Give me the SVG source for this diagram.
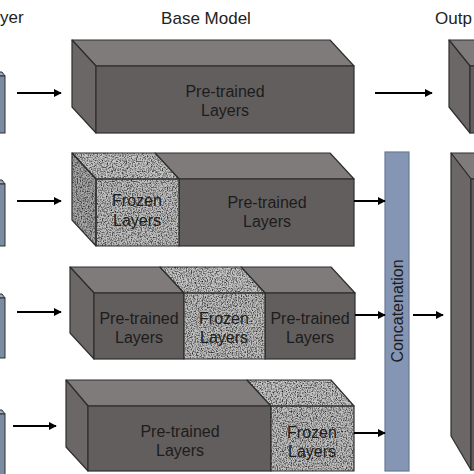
<svg xmlns="http://www.w3.org/2000/svg" width="474" height="474" viewBox="0 0 474 474">
<defs>
<filter id="noise" x="0" y="0" width="100%" height="100%" color-interpolation-filters="sRGB">
<feTurbulence type="fractalNoise" baseFrequency="0.8" numOctaves="2" seed="3" result="n"/>
<feColorMatrix in="n" type="matrix" values="1.9 0 0 0 -0.12  1.9 0 0 0 -0.12  1.9 0 0 0 -0.12  0 0 0 0 1" result="g"/>
<feComposite in="g" in2="SourceGraphic" operator="arithmetic" k1="1" k2="0" k3="0" k4="0"/>
</filter>
<marker id="ah" viewBox="0 0 10 10" refX="9" refY="5" markerWidth="4" markerHeight="4" orient="auto" markerUnits="strokeWidth">
<path d="M0,0 L10,5 L0,10 Z" fill="#000"/>
</marker>
</defs>
<style>
.top{fill:#7e7b7a;stroke:#2e2e2e;stroke-width:1.2;stroke-linejoin:round}
.front{fill:#625e5d;stroke:#2e2e2e;stroke-width:1.2}
.side{fill:#6b6766;stroke:#2e2e2e;stroke-width:1.2;stroke-linejoin:round}
.fz{filter:url(#noise)}
.fzt{fill:#c6c6c6}
.fzf{fill:#c0c0c0}
.fzs{fill:#a8a8a8}
.edge{fill:none;stroke:#2e2e2e;stroke-width:1.2;stroke-linejoin:round}
.lbl{font-family:"Liberation Sans",Arial,sans-serif;font-size:16px;fill:#1c1c1c;text-anchor:middle}
.ttl{font-family:"Liberation Sans",Arial,sans-serif;font-size:17px;fill:#222}
.inp{fill:#7b8ba1;stroke:#2e2e2e;stroke-width:1}
.inpt{fill:#9aa8bb;stroke:#2e2e2e;stroke-width:1}
.arr{stroke:#000;stroke-width:2;fill:none;marker-end:url(#ah)}
</style>
<rect width="474" height="474" fill="#fff"/>

<text class="ttl" x="0" y="23">yer</text>
<text class="ttl" x="206" y="24" text-anchor="middle">Base Model</text>
<text class="ttl" x="435" y="24">Outp</text>

<g id="input1"><path class="inpt" d="M-5,72 L2,72 L5,76 L-5,76 Z"/><rect class="inp" x="-5" y="76" width="10" height="57"/></g>
<g id="input2"><path class="inpt" d="M-5,180 L2,180 L5,184 L-5,184 Z"/><rect class="inp" x="-5" y="184" width="10" height="62"/></g>
<g id="input3"><path class="inpt" d="M-5,294 L2,294 L5,298 L-5,298 Z"/><rect class="inp" x="-5" y="298" width="10" height="60"/></g>
<g id="input4"><path class="inpt" d="M-5,410 L2,410 L5,414 L-5,414 Z"/><rect class="inp" x="-5" y="414" width="10" height="70"/></g>

<g id="model1">
<polygon class="top" points="72,40 330,40 354,66 96,66"/>
<polygon class="side" points="72,40 96,66 96,133 72,107"/>
<rect class="front" x="96" y="66" width="258" height="67"/>
<text class="lbl" x="225" y="97">Pre-trained</text>
<text class="lbl" x="225" y="116">Layers</text>
</g>

<g id="model2">
<polygon class="top" points="155,153 330,153 354,179 179,179"/>
<rect class="front" x="179" y="179" width="175" height="67"/>
<g class="fz">
<polygon class="fzt" points="72,153 155,153 179,179 96,179"/>
<polygon class="fzs" points="72,153 96,179 96,246 72,220"/>
<rect class="fzf" x="96" y="179" width="83" height="67"/>
</g>
<polygon class="edge" points="72,153 155,153 179,179 96,179"/>
<polygon class="edge" points="72,153 96,179 96,246 72,220"/>
<rect class="edge" x="96" y="179" width="83" height="67"/>
<text class="lbl" x="137" y="206">Frozen</text>
<text class="lbl" x="137" y="226">Layers</text>
<text class="lbl" x="267" y="208">Pre-trained</text>
<text class="lbl" x="267" y="227">Layers</text>
</g>

<g id="model3">
<polygon class="top" points="70,267 160,267 184,293 94,293"/>
<polygon class="side" points="70,267 94,293 94,359 70,333"/>
<rect class="front" x="94" y="293" width="90" height="66"/>
<polygon class="top" points="241,267 331,267 355,293 265,293"/>
<rect class="front" x="265" y="293" width="90" height="66"/>
<g class="fz">
<polygon class="fzt" points="160,267 241,267 265,293 184,293"/>
<rect class="fzf" x="184" y="293" width="81" height="66"/>
</g>
<polygon class="edge" points="160,267 241,267 265,293 184,293"/>
<rect class="edge" x="184" y="293" width="81" height="66"/>
<text class="lbl" x="139" y="324">Pre-trained</text>
<text class="lbl" x="139" y="343">Layers</text>
<text class="lbl" x="224" y="324">Frozen</text>
<text class="lbl" x="224" y="343">Layers</text>
<text class="lbl" x="310" y="324">Pre-trained</text>
<text class="lbl" x="310" y="343">Layers</text>
</g>

<g id="model4">
<polygon class="top" points="66,380 247,380 271,406 88,406"/>
<polygon class="side" points="66,380 88,406 88,471 66,447"/>
<rect class="front" x="88" y="406" width="183" height="65"/>
<g class="fz">
<polygon class="fzt" points="247,380 331,380 354,406 271,406"/>
<rect class="fzf" x="271" y="406" width="83" height="65"/>
</g>
<polygon class="edge" points="247,380 331,380 354,406 271,406"/>
<rect class="edge" x="271" y="406" width="83" height="65"/>
<text class="lbl" x="180" y="437">Pre-trained</text>
<text class="lbl" x="180" y="456">Layers</text>
<text class="lbl" x="312" y="438">Frozen</text>
<text class="lbl" x="312" y="457">Layers</text>
</g>

<g id="concat">
<rect x="385" y="152" width="24" height="319" fill="#8596b4" stroke="#6a7a97" stroke-width="1.2"/>
<text class="lbl" transform="translate(403,311) rotate(-90)">Concatenation</text>
</g>

<g id="output1">
<polygon class="top" points="449,40 490,40 514,66 470,66"/>
<polygon class="side" points="449,40 470,66 470,133 449,107"/>
<rect class="front" x="470" y="66" width="40" height="67"/>
</g>
<g id="output2">
<polygon class="top" points="451,153 490,153 514,179 471,179"/>
<polygon class="side" points="451,153 471,179 471,470 451,436"/>
<rect class="front" x="471" y="179" width="40" height="291"/>
</g>

<g id="connectors">
<line class="arr" x1="17" y1="93" x2="61" y2="93"/>
<line class="arr" x1="17" y1="201" x2="61" y2="201"/>
<line class="arr" x1="17" y1="312" x2="61" y2="312"/>
<line class="arr" x1="13" y1="426" x2="56" y2="426"/>
<line class="arr" x1="375" y1="93" x2="432" y2="93"/>
<line class="arr" x1="354" y1="201" x2="385" y2="201"/>
<line class="arr" x1="355" y1="315" x2="385" y2="315"/>
<line class="arr" x1="354" y1="433" x2="385" y2="433"/>
<line class="arr" x1="413" y1="315" x2="443" y2="315"/>
</g>
</svg>
